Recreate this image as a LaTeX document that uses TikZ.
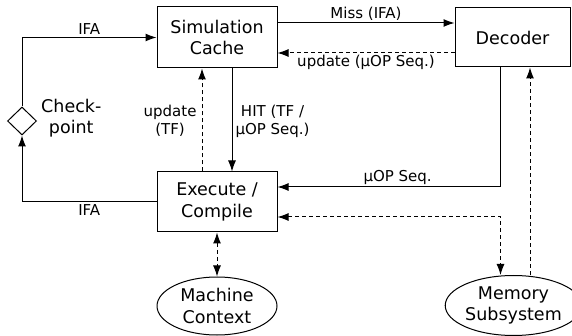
\documentclass[tikz,border=0pt]{standalone}
\usepackage{fontspec}
\setmainfont{DejaVu Sans}
\usetikzlibrary{shapes.geometric,arrows.meta}
\tikzset{
  box/.style={draw, line width=1pt, inner sep=0pt, align=center, font=\fontsize{17.5}{21.5}\selectfont},
  txt/.style={inner sep=0pt, align=center, font=\fontsize{17.5}{21.5}\selectfont},
  lbl/.style={font=\fontsize{15}{18}\selectfont, align=center, inner sep=2pt},
  arr/.style={line width=1pt, -{Latex[length=11pt,width=8pt]}},
  darr/.style={line width=1pt, {Latex[length=11pt,width=8pt]}-{Latex[length=11pt,width=8pt]}},
  dsh/.style={dash pattern=on 4pt off 3pt},
}
\begin{document}
\begin{tikzpicture}[x=1pt,y=-1pt]
\useasboundingbox (0,0) rectangle (572,336);
\node[box, minimum width=120pt, minimum height=61pt] (sc) at (217,37.5) {Simulation\\Cache};
\node[box, minimum width=115pt, minimum height=59pt] (dec) at (512.5,37.5) {Decoder};
\node[box, minimum width=120pt, minimum height=60pt] (ex) at (217,202) {Execute /\\Compile};
\node[box, ellipse, minimum width=120pt, minimum height=58pt] (mc) at (217,306) {Machine\\Context};
\node[box, ellipse, minimum width=115pt, minimum height=60pt] (mem) at (513.5,305.5) {Memory\\Subsystem};
\node[box, diamond, minimum width=29pt, minimum height=28pt] (cp) at (22,121) {};
\node[txt, anchor=west] (cpt) at (41,118) {Check-\\point};

\draw[arr] (cp.north) |- node[lbl, pos=0.75, above] {IFA} (sc.west);
\draw[arr] (ex.west) -| node[lbl, pos=0.25, below] {IFA} (cp.south);
\draw[arr] ([yshift=14.5pt]sc.east) -- node[lbl, above] {Miss (IFA)} ([yshift=14.5pt]dec.west);
\draw[arr, dsh] ([yshift=-15.5pt]dec.west) -- node[lbl, below] {update (µOP Seq.)} ([yshift=-15.5pt]sc.east);
\draw[arr] ([xshift=15pt]sc.south) -- node[lbl, right, xshift=1pt, yshift=-1pt] {HIT (TF /\\µOP Seq.)} ([xshift=15pt]ex.north);
\draw[arr, dsh] ([xshift=-15pt]ex.north) -- node[lbl, left, xshift=-3pt, yshift=-1pt] {update\\(TF)} ([xshift=-15pt]sc.south);
\draw[arr] ([xshift=-12.5pt]dec.south) |- node[lbl, pos=0.73, above] {µOP Seq.} ([yshift=15pt]ex.east);
\draw[darr, dsh] ([yshift=-15pt]ex.east) -| ([xshift=-13pt]mem.north);
\draw[arr, dsh] ([xshift=16.5pt]mem.north) -- ([xshift=16.5pt]mem.north |- dec.south);
\draw[darr, dsh] (ex.south) -- (mc.north);
\end{tikzpicture}
\end{document}
